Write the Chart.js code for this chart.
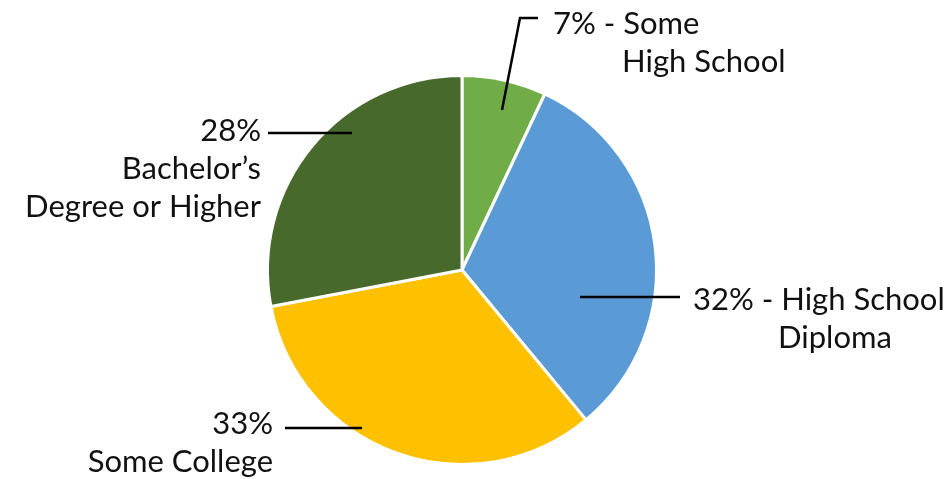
<!DOCTYPE html>
<html><head><meta charset="utf-8">
<script src="https://cdn.jsdelivr.net/npm/chart.js@4"></script>
<style>html,body{margin:0;padding:0;background:#fff;}#wrap{width:947px;height:479px;}</style>
</head><body><div id="wrap"><canvas id="c" width="947" height="479"></canvas></div>
<script>
const categories = ["Some High School", "High School Diploma", "Some College", "Bachelor’s Degree or Higher"];
const values = [7, 32, 33, 28];
const colors = ["#70AD47", "#5B9BD5", "#FFC000", "#476A2C"];

// label annotations: text lines and leader lines (canvas px)
const labelLayout = [
  { lines: [["7% - Some", 553, 24, "left"], ["High School", 622, 62, "left"]], leader: [[502,110],[520,18],[538,18]] },
  { lines: [["32% - High School", 693, 300, "left"], ["Diploma", 778, 338, "left"]], leader: [[580,297],[680,297]] },
  { lines: [["33%", 273, 424, "right"], ["Some College", 273, 462, "right"]], leader: [[285,428],[362,428]] },
  { lines: [["28%", 261, 131, "right"], ["Bachelor’s", 261, 169, "right"], ["Degree or Higher", 261, 207, "right"]], leader: [[268,133],[352,133]] }
];

const labelPlugin = {
  id: 'labels',
  afterDatasetsDraw(chart) {
    const ctx = chart.ctx;
    ctx.save();
    ctx.strokeStyle = '#000';
    ctx.lineWidth = 2.5;
    ctx.fillStyle = '#111';
    ctx.font = '31px Lato';
    ctx.textBaseline = 'middle';
    labelLayout.forEach((l, i) => {
      ctx.beginPath();
      l.leader.forEach((p, j) => j ? ctx.lineTo(p[0], p[1]) : ctx.moveTo(p[0], p[1]));
      ctx.stroke();
      l.lines.forEach(t => { ctx.textAlign = t[3]; ctx.fillText(t[0], t[1], t[2]); });
    });
    ctx.restore();
  }
};

new Chart(document.getElementById('c'), {
  type: 'pie',
  data: { labels: categories, datasets: [{ data: values, backgroundColor: colors, borderColor: '#fff', borderWidth: 3 }] },
  options: {
    responsive: false, animation: false,
    layout: { padding: { left: 266, right: 289, top: 74, bottom: 13 } },
    plugins: { legend: { display: false }, tooltip: { enabled: false } }
  },
  plugins: [labelPlugin]
});
</script></body></html>
